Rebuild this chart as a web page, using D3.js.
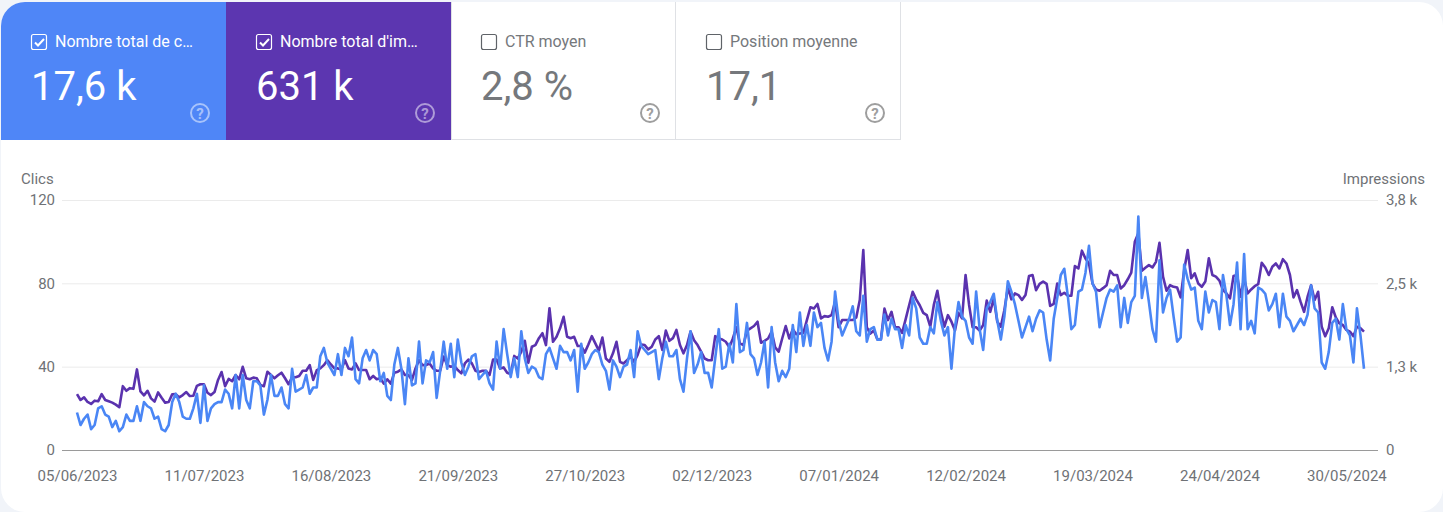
<!DOCTYPE html>
<html>
<head>
<meta charset="utf-8">
<script src="https://cdn.jsdelivr.net/npm/d3@7.9.0/dist/d3.min.js"></script>
<style>
  body { margin: 0; background: #f1f4f9; font-family: Roboto, sans-serif; }
  svg { display: block; }
  text { font-family: Roboto, sans-serif; }
  .tick text { font-size: 15px; fill: #6f7276; }
  .grid .tick line { stroke: #ebebeb; }
  .x-axis .domain, .x-axis .tick line { display: none; }
</style>
</head>
<body>
<svg width="1443" height="512"></svg>
<script>
// Tiles
const tileLabels = ['Nombre total de c…', "Nombre total d'im…", 'CTR moyen', 'Position moyenne'];
const tileValues = ['17,6 k', '631 k', '2,8 %', '17,1'];
const tileFills = ['#4f86f7', '#5c36b0', '#ffffff', '#ffffff'];

// Axes
const startDate = '05/06/2023';
const dateTicks = ['05/06/2023', '11/07/2023', '16/08/2023', '21/09/2023', '27/10/2023', '02/12/2023',
  '07/01/2024', '12/02/2024', '19/03/2024', '24/04/2024', '30/05/2024'];
const clickTicks = [0, 40, 80, 120];
const impressionTicks = [0, 1267, 2533, 3800];
const impressionTickLabels = ['0', '1,3 k', '2,5 k', '3,8 k'];

// Daily clicks
const clicks = [
  18,12,15,17,10,12,20,21,17,16, 11,14,9,11,17,14,14,21,14,23,
  21,20,15,16,10,9,12,23,27,23, 16,15,15,20,27,13,31,14,20,22,
  23,23,29,27,20,36,20,36,24,20, 33,33,31,17,24,36,26,26,30,22,
  20,39,28,29,30,36,27,30,30,45, 49,42,39,36,46,36,49,45,54,34,32,
  44,48,43,48,46,33,37,26,24,41, 49,39,22,44,31,32,52,32,43,42,
  47,25,38,52,39,51,35,53,42,36, 40,45,46,34,36,38,32,29,52,39,
  58,46,35,44,35,57,44,37,40,39, 35,34,46,49,44,39,50,47,47,43,
  48,28,51,39,42,46,48,47,41,38,29, 43,40,35,40,41,48,35,57,50,48,
  46,47,48,34,44,52,45,45,48,34, 28,44,57,37,41,47,37,37,30,44,
  58,39,40,51,42,70,47,48,61,46, 44,36,42,52,30,59,42,33,38,35,
  39,60,47,66,50,60,50,66,59,61, 49,43,52,76,62,55,59,63,69,57,55,
  74,52,58,59,53,53,65,55,63,58, 58,49,60,55,73,68,54,51,51,59,
  56,71,62,55,59,39,59,71,64,62, 54,51,76,58,48,68,71,75,62,53,
  64,81,76,70,62,54,59,64,57,63, 67,66,53,43,63,73,84,87,74,58,
  60,76,77,85,98,80,76,59,66,73,77, 76,79,59,73,61,71,74,112,73,83,
  71,58,52,91,66,73,77,64,52,54, 89,82,77,78,62,58,76,66,72,71,
  58,84,74,60,70,90,58,94,58,62, 56,78,77,75,67,70,75,59,75,64,
  62,57,60,63,60,65,79,68,66,42, 39,47,61,63,53,70,58,55,42,68,
  55,39
];

// Daily impressions
const impressions = [
  850,760,800,730,700,750,740,850,760,740, 720,690,650,970,900,940,930,1225,890,830,
  900,785,735,875,795,720,730,845,850,800, 835,880,820,825,975,1000,1000,870,835,880,
  1065,1185,970,1080,1045,1140,1075,1265,1090,1075, 1100,1090,990,970,1190,1140,1090,1135,1175,1090,
  1000,1105,1105,1125,1205,1205,1290,1065,1215,1240, 1290,1365,1300,1240,1240,1225,1365,1240,1225,1315,1215,
  1215,1215,1075,1125,1075,1090,1010,1075,1010,1175, 1190,1225,1140,1140,1065,1240,1365,1290,1290,1315,
  1240,1205,1205,1420,1290,1265,1280,1215,1165,1315, 1375,1315,1205,1185,1205,1205,1140,1375,1375,1240,
  1255,1175,1155,1430,1390,1495,1660,1325,1570,1595, 1700,1775,1595,2155,1645,1720,1850,2025,1720,1700,
  1720,1580,1580,1480,1600,1730,1620,1510,1710,1390,1340, 1470,1645,1340,1315,1365,1420,1340,1445,1605,1595,
  1530,1570,1680,1730,1520,1815,1660,1700,1825,1595, 1470,1595,1800,1670,1595,1495,1390,1365,1365,1730,
  1695,1680,1645,1560,1695,1865,1620,1595,1815,1850, 1885,1950,1630,1660,1695,1800,1560,1495,1695,1885,
  1695,1835,1760,1770,1780,1975,2170,2150,2220,2000, 2035,2025,2050,2255,1865,1975,1975,1975,1975,2015,2280,
  3040,1865,1770,1815,1680,1680,2150,1975,2100,1865, 1865,1780,1985,2200,2405,2290,2200,2085,2050,1875,
  2205,2420,2100,1875,2050,1950,1815,2085,2000,2660, 2205,1865,1865,1815,1900,2270,2100,2305,1950,1875,
  2125,2470,2290,2380,2355,2280,2355,2645,2660,2430, 2525,2560,2525,2190,2220,2530,2355,2390,2345,2345,
  2795,2760,3030,2910,2835,2530,2440,2420,2460,2505,2725, 2660,2660,2455,2505,2595,2695,3165,3295,2725,2770,
  2810,2775,2860,3150,2635,2420,2505,2480,2470,2320, 2735,3040,2610,2685,2530,2480,2560,2915,2660,2635,
  2575,2430,2380,2305,2645,2660,2330,2610,2380,2440, 2490,2520,2845,2775,2660,2785,2835,2760,2900,2835,
  2660,2320,2430,2255,2100,2330,2505,2280,2405,1875, 1730,1850,2170,2015,1925,1900,1825,1800,1730,1875,
  1850,1800
];

const svg = d3.select('svg');
const parseDate = d3.timeParse('%d/%m/%Y');
const formatDate = d3.timeFormat('%d/%m/%Y');
const days = clicks.map((d, i) => d3.timeDay.offset(parseDate(startDate), i));

// White rounded card, with the tiles clipped to it
svg.append('clipPath').attr('id', 'card')
  .append('rect').attr('x', 1).attr('y', 2).attr('width', 1442).attr('height', 510).attr('rx', 24);

const card = svg.append('g').attr('clip-path', 'url(#card)');
card.append('rect').attr('width', 1443).attr('height', 512).attr('fill', '#fff');

const tileWidth = 225;
const tileHeight = 138;

const tiles = card.selectAll('g.tile')
  .data(tileLabels)
  .enter()
  .append('g')
  .attr('class', 'tile')
  .attr('transform', (d, i) => `translate(${1 + i * tileWidth},2)`);

tiles.append('rect')
  .attr('width', tileWidth)
  .attr('height', tileHeight)
  .attr('fill', (d, i) => tileFills[i]);

// thin borders on the two white tiles, the first one starts right after the purple tile
tiles.filter((d, i) => i > 1).append('rect')
  .attr('x', (d) => d === tileLabels[2] ? 0.5 : -0.5)
  .attr('y', -2)
  .attr('width', (d) => d === tileLabels[2] ? tileWidth - 1 : tileWidth)
  .attr('height', tileHeight + 1.5)
  .attr('fill', 'none')
  .attr('stroke', '#dfe1e5');

const inkColor = (i) => i < 2 ? '#fff' : '#75787c';

tiles.append('rect')
  .attr('x', 30.5).attr('y', 32.5)
  .attr('width', 15).attr('height', 15)
  .attr('rx', 2)
  .attr('fill', 'none')
  .attr('stroke', (d, i) => i < 2 ? '#fff' : '#5f6368')
  .attr('stroke-width', 1.2);

tiles.filter((d, i) => i < 2).append('path')
  .attr('d', 'M34 40.5l3 3 6-6.5')
  .attr('fill', 'none')
  .attr('stroke', '#fff')
  .attr('stroke-width', 2);

tiles.append('text')
  .attr('x', 54).attr('y', 45)
  .attr('font-size', 16)
  .attr('fill', (d, i) => inkColor(i))
  .text((d) => d);

tiles.append('text')
  .attr('x', 30).attr('y', 98)
  .attr('font-size', 40)
  .attr('fill', (d, i) => inkColor(i))
  .text((d, i) => tileValues[i]);

// help icons
tiles.append('circle')
  .attr('cx', 199).attr('cy', 111).attr('r', 9)
  .attr('fill', 'none')
  .attr('stroke', (d, i) => i < 2 ? 'rgba(255,255,255,0.5)' : '#9e9e9e')
  .attr('stroke-width', 2);

tiles.append('text')
  .attr('x', 199).attr('y', 116.5)
  .attr('text-anchor', 'middle')
  .attr('font-size', 15)
  .attr('font-weight', 700)
  .attr('fill', (d, i) => i < 2 ? 'rgba(255,255,255,0.5)' : '#9e9e9e')
  .text('?');

// Chart
const x = d3.scaleTime().domain(d3.extent(days)).range([77, 1364]);
const yClicks = d3.scaleLinear().domain([0, 120]).range([450, 200]);
const yImpressions = d3.scaleLinear().domain([0, 3800]).range([450, 200]);

const leftAxis = card.append('g')
  .attr('class', 'grid')
  .attr('transform', 'translate(62,0)')
  .call(d3.axisLeft(yClicks).tickValues(clickTicks).tickSize(-1316).tickPadding(7));
leftAxis.select('.domain').remove();
leftAxis.selectAll('.tick line').filter((d) => d === 0).style('stroke', '#9a9a9a');

const rightAxis = card.append('g')
  .attr('class', 'grid')
  .attr('transform', 'translate(1378,0)')
  .call(d3.axisRight(yImpressions)
    .tickValues(impressionTicks)
    .tickSize(0)
    .tickPadding(8)
    .tickFormat((d, i) => impressionTickLabels[i]));
rightAxis.select('.domain').remove();

card.append('g')
  .attr('class', 'x-axis')
  .attr('transform', 'translate(0,450)')
  .call(d3.axisBottom(x)
    .tickValues(dateTicks.map(parseDate))
    .tickSize(0)
    .tickPadding(20)
    .tickFormat(formatDate));

card.append('text')
  .attr('x', 21).attr('y', 184)
  .attr('font-size', 15)
  .attr('fill', '#6f7276')
  .text('Clics');

card.append('text')
  .attr('x', 1425).attr('y', 184)
  .attr('text-anchor', 'end')
  .attr('font-size', 15)
  .attr('fill', '#6f7276')
  .text('Impressions');

const clicksLine = d3.line().x((d, i) => x(days[i])).y((d) => yClicks(d));
const impressionsLine = d3.line().x((d, i) => x(days[i])).y((d) => yImpressions(d));

card.append('path')
  .attr('d', impressionsLine(impressions))
  .attr('fill', 'none')
  .attr('stroke', '#5a32ae')
  .attr('stroke-width', 2.6)
  .attr('stroke-linejoin', 'round');

card.append('path')
  .attr('d', clicksLine(clicks))
  .attr('fill', 'none')
  .attr('stroke', '#4a86f5')
  .attr('stroke-width', 2.6)
  .attr('stroke-linejoin', 'round');
</script>
</body>
</html>
